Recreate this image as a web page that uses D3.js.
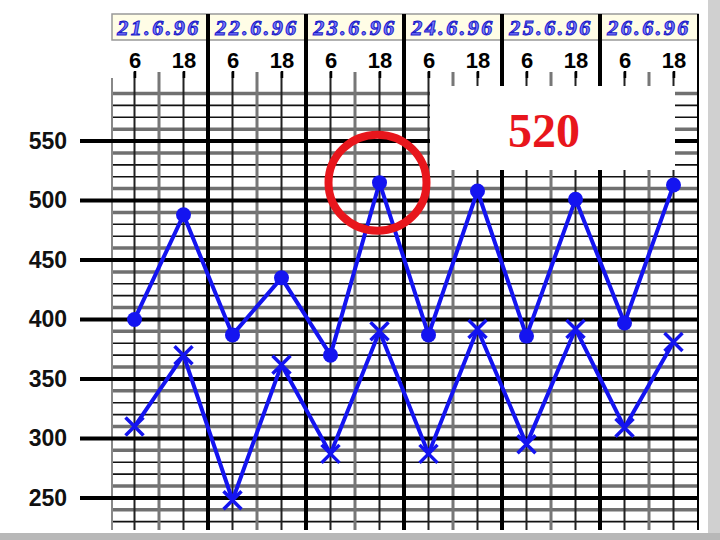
<!DOCTYPE html>
<html>
<head>
<meta charset="utf-8">
<script src="https://cdn.jsdelivr.net/npm/d3@7"></script>
<style>
  body { margin: 0; background: #fff; }
  svg { display: block; }
</style>
</head>
<body>
<div id="chart"></div>
<script>
// Data
const days = ["21.6.96", "22.6.96", "23.6.96", "24.6.96", "25.6.96", "26.6.96"];
const readHours = [6, 18];
const upperValues = [400, 488, 387, 435, 370, 515, 387, 508, 386, 501, 397, 513];   // circles
const lowerValues = [310, 370, 248, 362, 287, 390, 287, 392, 295, 392, 309, 381];   // crosses
const yTicks = [250, 300, 350, 400, 450, 500, 550];
const highlightIndex = 5;      // the circled reading
const highlightLabel = "520";

const width = 720, height = 540;
const blue = "#1414f0", red = "#e8161c";

const svg = d3.select("#chart").append("svg")
    .attr("width", width).attr("height", height);

// Scales: x in hours from start of first day
const x = d3.scaleLinear().domain([0, days.length * 24]).range([110, 698]);
const y = d3.scaleLinear().domain([223, 603]).range([530, 78]);
const plotTop = 78, plotBottom = 530;

const pts = (vals) => vals.map((v, i) => ({
    t: Math.floor(i / 2) * 24 + readHours[i % 2], v
}));
const upper = pts(upperValues), lower = pts(lowerValues);

// 1. Horizontal grid
const minorY = d3.range(230, 601, 10).filter(v => v % 50 !== 0);
const isGray = d => d % 50 === 10 || d % 50 === 40;
const grid = svg.append("g");
grid.selectAll(".hminor").data(minorY).join("line")
    .attr("x1", 112).attr("x2", 698)
    .attr("y1", d => y(d)).attr("y2", d => y(d))
    .attr("stroke", d => isGray(d) ? "#707070" : "#111")
    .attr("stroke-width", d => isGray(d) ? 3.5 : 1.6);

// 2. Vertical grid (every 6 hours)
const vHours = d3.range(6, days.length * 24 + 1, 6);
grid.selectAll(".vline").data(vHours).join("line")
    .attr("x1", d => x(d)).attr("x2", d => x(d))
    .attr("y1", d => d % 24 === 0 ? 14 : plotTop - 6)
    .attr("y2", plotBottom)
    .attr("stroke", d => d % 24 === 0 ? "#000" : (d % 24 === 12 ? "#777" : "#222"))
    .attr("stroke-width", d => d % 24 === 0 ? (d === days.length * 24 ? 2 : 4) : (d % 24 === 12 ? 3 : 2));

grid.append("line")
    .attr("x1", 112).attr("x2", 112).attr("y1", plotTop).attr("y2", plotBottom)
    .attr("stroke", "#888").attr("stroke-width", 2);

// Major horizontal lines on top, reaching out to the labels
grid.selectAll(".hmajor").data(yTicks).join("line")
    .attr("x1", 80).attr("x2", 698)
    .attr("y1", d => y(d)).attr("y2", d => y(d))
    .attr("stroke", "#000").attr("stroke-width", 4);

// 3. Header: date row and hour row
const header = svg.append("g");
header.append("rect")
    .attr("x", 112).attr("y", 14).attr("width", 586).attr("height", 26)
    .attr("fill", "#fffde6").attr("stroke", "#999").attr("stroke-width", 1.5);
header.selectAll(".date").data(days).join("text")
    .attr("x", (d, i) => x(i * 24 + 12))
    .attr("y", 35)
    .attr("text-anchor", "middle")
    .attr("font-family", "Liberation Serif, serif")
    .attr("font-style", "italic")
    .attr("font-weight", "bold")
    .attr("font-size", 22)
    .attr("letter-spacing", 2.5)
    .attr("fill", "#7a7aff")
    .attr("stroke", "#1a1ac8").attr("stroke-width", 1)
    .text(d => d);
// redraw day dividers across the header
header.selectAll(".hdiv").data(d3.range(1, days.length + 1)).join("line")
    .attr("x1", d => x(d * 24)).attr("x2", d => x(d * 24))
    .attr("y1", 14).attr("y2", plotTop)
    .attr("stroke", "#000").attr("stroke-width", d => d === days.length ? 2 : 4);

const hourTicks = d3.range(days.length).flatMap(i => readHours.map(h => i * 24 + h));
svg.append("g")
    .attr("transform", `translate(0,${plotTop})`)
    .call(d3.axisTop(x).tickValues(hourTicks).tickSize(7).tickPadding(3)
        .tickFormat(d => d % 24))
    .call(g => g.select(".domain").remove())
    .call(g => g.selectAll(".tick line").attr("stroke", "#000").attr("stroke-width", 2.5))
    .call(g => g.selectAll(".tick text")
        .attr("font-family", "Liberation Sans, Arial, sans-serif")
        .attr("font-weight", "bold").attr("font-size", 22).attr("fill", "#000"));

// 4. Y axis labels
svg.append("g")
    .attr("transform", "translate(76,0)")
    .call(d3.axisLeft(y).tickValues(yTicks).tickSize(0).tickPadding(9))
    .call(g => g.select(".domain").remove())
    .call(g => g.selectAll(".tick text")
        .attr("font-family", "Liberation Sans, Arial, sans-serif")
        .attr("font-weight", "bold").attr("font-size", 23).attr("fill", "#111"));

// 5. Series
const line = d3.line().x(d => x(d.t)).y(d => y(d.v));
svg.append("path").datum(upper)
    .attr("fill", "none").attr("stroke", blue).attr("stroke-width", 4)
    .attr("stroke-linejoin", "round").attr("d", line);
svg.append("path").datum(lower)
    .attr("fill", "none").attr("stroke", blue).attr("stroke-width", 4)
    .attr("stroke-linejoin", "round").attr("d", line);

svg.append("g").selectAll("circle").data(upper).join("circle")
    .attr("cx", d => x(d.t)).attr("cy", d => y(d.v)).attr("r", 7.5)
    .attr("fill", blue);

const s = 9;
svg.append("g").selectAll("path").data(lower).join("path")
    .attr("d", d => {
        const cx = x(d.t), cy = y(d.v);
        return `M${cx - s},${cy - s}L${cx + s},${cy + s}M${cx - s},${cy + s}L${cx + s},${cy - s}`;
    })
    .attr("stroke", blue).attr("stroke-width", 3.5).attr("fill", "none");

// 6. Annotation: red ring and value box
const hp = upper[highlightIndex];
svg.append("ellipse")
    .attr("cx", x(hp.t) - 2).attr("cy", y(hp.v))
    .attr("rx", 49).attr("ry", 48)
    .attr("fill", "none").attr("stroke", red).attr("stroke-width", 8);

svg.append("rect")
    .attr("x", 430).attr("y", 86).attr("width", 245).attr("height", 84)
    .attr("fill", "#fff");
svg.append("text")
    .attr("x", 544).attr("y", 147)
    .attr("text-anchor", "middle")
    .attr("font-family", "Liberation Serif, serif")
    .attr("font-weight", "bold").attr("font-size", 48)
    .attr("fill", red)
    .text(highlightLabel);

// 7. Scan edges
svg.append("rect").attr("x", 708).attr("y", 0).attr("width", 12).attr("height", height)
    .attr("fill", "#d0d0d0");
svg.append("rect").attr("x", 0).attr("y", 533).attr("width", width).attr("height", 7)
    .attr("fill", "#b8b8b8");
</script>
</body>
</html>
